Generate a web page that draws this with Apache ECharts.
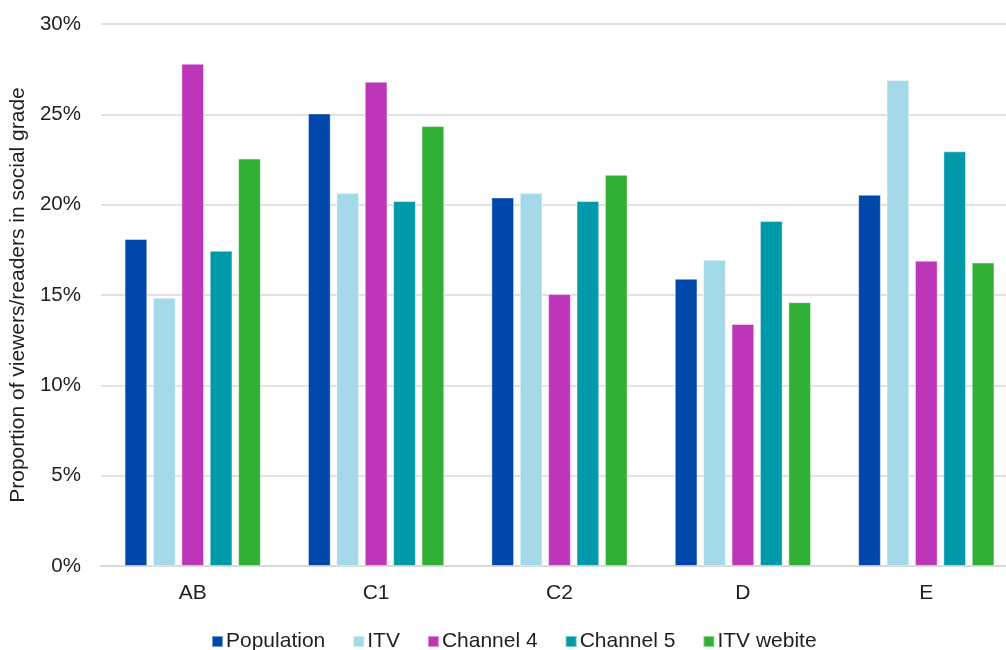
<!DOCTYPE html>
<html>
<head>
<meta charset="utf-8">
<title>Social grade profile</title>
<script src="https://cdn.jsdelivr.net/npm/echarts@6/dist/echarts.min.js"></script>
<style>
  html, body { margin: 0; padding: 0; background: #ffffff; }
  #chart { width: 1006px; height: 650px; }
</style>
</head>
<body>
<div id="chart"></div>
<script>
// Social grade categories
const grades = ['AB', 'C1', 'C2', 'D', 'E'];

// Share of each audience in each social grade (%)
const population = [18.1, 25.05, 20.4, 15.9, 20.55];
const itv        = [14.85, 20.65, 20.65, 16.95, 26.9];
const channel4   = [27.8, 26.8, 15.05, 13.4, 16.9];
const channel5   = [17.45, 20.2, 20.2, 19.1, 22.95];
const itvWebsite = [22.55, 24.35, 21.65, 14.6, 16.8];

// Y axis ticks
const yTicks = { min: 0, max: 30, step: 5 };

const seriesDefs = [
  { name: 'Population',  data: population, color: '#0047ab' },
  { name: 'ITV',         data: itv,        color: '#a3d9e8' },
  { name: 'Channel 4',   data: channel4,   color: '#bd35b8' },
  { name: 'Channel 5',   data: channel5,   color: '#0099aa' },
  { name: 'ITV webite',  data: itvWebsite, color: '#32b036' }
];

const FONT = '"Liberation Sans", Arial, sans-serif';
const TEXT = '#1f1f1f';

const chart = echarts.init(document.getElementById('chart'), null, { renderer: 'canvas' });

chart.setOption({
  animation: false,
  backgroundColor: '#ffffff',
  textStyle: { fontFamily: FONT, color: TEXT },
  // plot area runs slightly past the right edge of the canvas
  grid: { left: 101, width: 917, top: 24, bottom: 84, outerBoundsMode: 'none', containLabel: false },
  legend: {
    left: 211,
    top: 631,
    padding: 0,
    itemWidth: 11,
    itemHeight: 11,
    itemGap: 27,
    icon: 'rect',
    textStyle: { fontFamily: FONT, fontSize: 21, color: TEXT, padding: [0, 0, 0, -2] },
    data: seriesDefs.map(s => s.name)
  },
  xAxis: {
    type: 'category',
    data: grades,
    axisTick: { show: false },
    axisLine: { lineStyle: { color: '#d9d9d9', width: 2 } },
    axisLabel: { fontFamily: FONT, fontSize: 21, color: TEXT, margin: 17 }
  },
  yAxis: {
    type: 'value',
    min: yTicks.min,
    max: yTicks.max,
    interval: yTicks.step,
    name: 'Proportion of viewers/readers in social grade',
    nameLocation: 'middle',
    nameGap: 72,
    nameTextStyle: { fontFamily: FONT, fontSize: 21, color: TEXT },
    axisLine: { show: false },
    axisTick: { show: false },
    axisLabel: { fontFamily: FONT, fontSize: 20.5, color: TEXT, margin: 20, formatter: '{value}%' },
    splitLine: { lineStyle: { color: '#d9d9d9', width: 1.5 } }
  },
  series: seriesDefs.map(s => ({
    name: s.name,
    type: 'bar',
    data: s.data,
    barGap: '25%',
    barCategoryGap: '25.7%',
    itemStyle: { color: s.color, borderColor: 'rgba(255,255,255,0.45)', borderWidth: 1 }
  }))
});
</script>
</body>
</html>
